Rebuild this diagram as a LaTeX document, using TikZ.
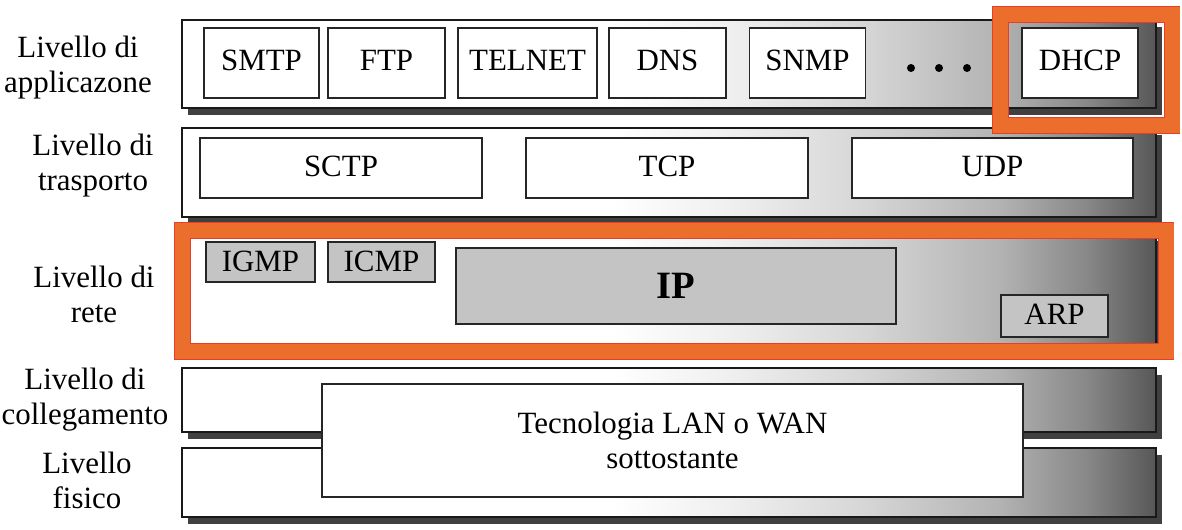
\documentclass[tikz,border=0pt]{standalone}
\usepackage{fontspec}
\setmainfont{Liberation Serif}
\usetikzlibrary{shadows}
\definecolor{boxgray}{RGB}{196,196,196}
\definecolor{hlorange}{RGB}{236,110,45}
\definecolor{hlred}{RGB}{230,62,40}
\pgfdeclarehorizontalshading{layergrad}{100bp}{color(0bp)=(white); color(25bp)=(white); color(47bp)=(white); color(53bp)=(black!6); color(60bp)=(black!16); color(67bp)=(black!30); color(71.5bp)=(black!47); color(75bp)=(black!66); color(100bp)=(black!66)}
\begin{document}
\begin{tikzpicture}[font=\fontsize{17.6}{19.9}\selectfont,
    layer/.style={draw=black!90, line width=0.9pt, shade, shading=layergrad,
      drop shadow={shadow xshift=0.12cm, shadow yshift=-0.14cm, fill=black!75, opacity=1}},
    proto/.style={draw=black!85, line width=0.8pt, fill=white, inner sep=0pt},
    lifted/.style={text depth=#1},
    netproto/.style={proto, fill=boxgray},
    lvl/.style={align=center},
    hilite/.style={draw=hlred, line width=0.5pt, double=hlorange, double distance=0.3cm}]
                \useasboundingbox (0,0) rectangle (23.64,-10.6);
                % Layer bands
                \path[layer] (3.64,-0.40) rectangle (23.12,-2.16);
                \path[layer] (3.64,-2.56) rectangle (23.12,-4.34);
                \path[layer] (3.64,-4.68) rectangle (23.12,-6.88);
                \path[layer] (3.64,-7.36) rectangle (23.12,-8.64);
                \path[layer] (3.64,-8.96) rectangle (23.12,-10.34);
                % Layer names
                \node[lvl] (lapp) at (1.56,-1.36) {Livello di\\applicazone};
                \node[lvl] (ltra) at (1.86,-3.31) {Livello di\\trasporto};
                \node[lvl] (lnet) at (1.88,-5.89) {Livello di\\rete};
                \node[lvl] (llink) at (1.70,-8.00) {Livello di\\collegamento};
                \node[lvl] (lphys) at (1.74,-9.61) {Livello\\fisico};
                % Application protocols
                \node[proto, lifted=0.35em, minimum width=2.30cm, minimum height=1.40cm] (smtp) at (5.23,-1.26) {SMTP};
                \node[proto, lifted=0.35em, minimum width=2.34cm, minimum height=1.40cm] (ftp) at (7.73,-1.26) {FTP};
                \node[proto, lifted=0.35em, minimum width=2.78cm, minimum height=1.40cm] (telnet) at (10.55,-1.26) {TELNET};
                \node[proto, lifted=0.35em, minimum width=2.34cm, minimum height=1.40cm] (dns) at (13.35,-1.26) {DNS};
                \node[proto, lifted=0.35em, minimum width=2.32cm, minimum height=1.40cm] (snmp) at (16.15,-1.26) {SNMP};
                \node[proto, lifted=0.35em, minimum width=2.32cm, minimum height=1.40cm] (dhcp) at (21.60,-1.26) {DHCP};
                \foreach \dx in {18.22,18.78,19.34}
                  \fill (\dx,-1.36) circle (0.08);
                % Transport protocols
                \node[proto, lifted=0.2em, minimum width=5.64cm, minimum height=1.20cm] (sctp) at (6.82,-3.36) {SCTP};
                \node[proto, lifted=0.2em, minimum width=5.64cm, minimum height=1.20cm] (tcp) at (13.34,-3.36) {TCP};
                \node[proto, lifted=0.2em, minimum width=5.62cm, minimum height=1.20cm] (udp) at (19.85,-3.36) {UDP};
                % Network protocols
                \node[netproto, lifted=0.08em, minimum width=2.18cm, minimum height=0.80cm] (igmp) at (5.21,-5.24) {IGMP};
                \node[netproto, lifted=0.08em, minimum width=2.14cm, minimum height=0.80cm] (icmp) at (7.63,-5.24) {ICMP};
                \node[netproto, minimum width=8.80cm, minimum height=1.52cm,
                  font=\fontsize{22}{26}\selectfont\bfseries] (ip) at (13.52,-5.72) {IP};
                \node[netproto, lifted=0.25em, minimum width=2.14cm, minimum height=0.84cm] (arp) at (21.09,-6.32) {ARP};
                % Link and physical
                \node[proto, align=center, minimum width=14.02cm, minimum height=2.26cm] (lanwan) at (13.45,-8.81)
                  {Tecnologia LAN o WAN\\sottostante};
                % Highlights
                \draw[hilite] (3.65,-4.61) rectangle (23.32,-7.03);
                \draw[hilite] (20.01,-0.29) rectangle (23.44,-2.51);
              \end{tikzpicture}
\end{document}
